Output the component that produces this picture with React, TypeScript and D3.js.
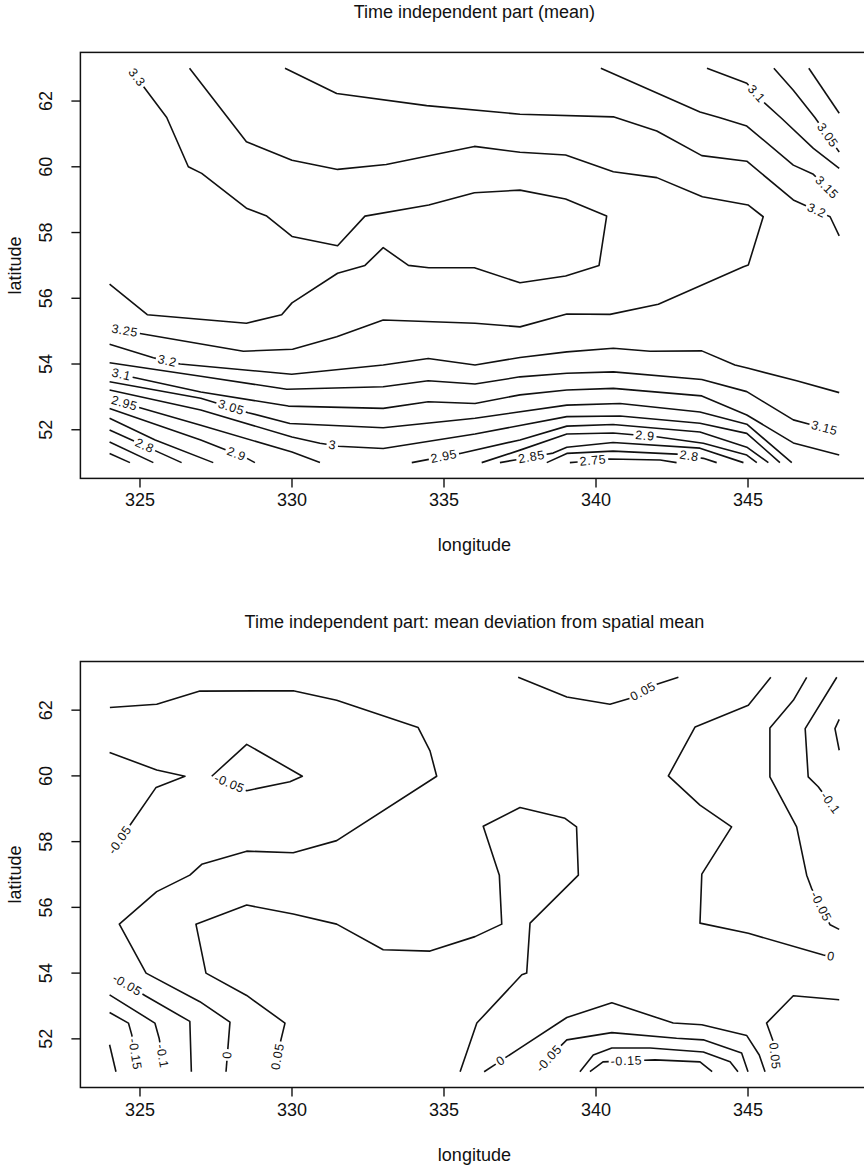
import React from 'react';
import * as d3 from 'd3';

type Pt = [number, number];
interface Contour {
  level: string;
  pts: Pt[];
  at?: Pt;
}

// Grid extent and axis ticks
const lonRange: Pt = [324, 348];
const latRange: Pt = [51, 63];
const lonTicks = [325, 330, 335, 340, 345];
const latTicks = [52, 54, 56, 58, 60, 62];

// Contour lines of the time independent part (mean), in [longitude, latitude]
const meanContours: Contour[] = [
  { level: '3.3', at: [324.87, 62.7], pts: [[324.66, 63], [325.88, 61.5], [326.59, 60], [327.03, 59.8], [328.5, 58.74], [329.17, 58.5], [330, 57.88], [331.5, 57.6], [332.4, 58.5], [334.5, 58.84], [336, 59.21], [337.5, 59.29], [339, 59.02], [340.35, 58.5], [340.1, 57], [339, 56.68], [337.5, 56.47], [336, 56.93], [334.5, 56.93], [333.83, 57], [333, 57.54], [332.4, 57], [331.5, 56.76], [330, 55.86], [329.66, 55.5], [328.5, 55.24], [325.24, 55.5], [324, 56.43]] },
  { level: '3.25', at: [324.5, 55.03], pts: [[326.63, 63], [328.5, 60.76], [330, 60.2], [331.5, 59.92], [333.1, 60.07], [336, 60.62], [337.5, 60.44], [339, 60.36], [340.57, 59.85], [342, 59.67], [343.5, 59.09], [345, 58.84], [345.5, 58.48], [345.01, 57.01], [344.85, 56.96], [342.05, 55.82], [340.46, 55.51], [339.04, 55.52], [337.5, 55.13], [336.02, 55.24], [333, 55.34], [331.47, 54.83], [330.02, 54.45], [328.4, 54.39], [325, 54.93], [324, 55.09]] },
  { level: '3.2', at: [347.26, 58.68], pts: [[329.77, 63], [331.47, 62.23], [334.43, 61.86], [337.5, 61.6], [340.57, 61.52], [342, 61.09], [343.48, 60.34], [344.96, 60.17], [346.49, 58.99], [347.7, 58.48], [348, 57.9]] },
  { level: '3.15', at: [347.57, 59.35], pts: [[340.16, 63], [343.42, 61.67], [344.08, 61.49], [344.96, 61.24], [346.49, 60.05], [347.15, 59.77], [348, 58.99]] },
  { level: '3.1', at: [345.23, 62.18], pts: [[343.65, 63], [344.96, 62.54], [345.56, 61.93], [346.11, 61.47], [347.15, 60.56], [348, 59.95]] },
  { level: '3.05', at: [347.63, 60.97], pts: [[345.85, 63], [346.49, 62.33], [347.2, 61.5], [348, 60.45]] },
  { level: '3', pts: [[347, 63], [348, 61.63]] },
  { level: '3.2', at: [325.89, 54.08], pts: [[324, 54.6], [325.44, 54.19], [326.32, 54], [329.99, 53.69], [333, 53.97], [334.48, 54.17], [336.02, 53.97], [337.5, 54.2], [339.04, 54.37], [340.57, 54.48], [341.78, 54.39], [343.48, 54.4], [344.57, 53.97], [345.01, 53.87], [346.6, 53.49], [348, 53.13]] },
  { level: '3.15', at: [347.53, 52.08], pts: [[324, 54.04], [327, 53.63], [329.83, 53.23], [333, 53.31], [334.48, 53.49], [336.02, 53.39], [337.5, 53.61], [339.04, 53.72], [340.57, 53.76], [343.48, 53.53], [344.96, 53.16], [346.49, 52.3], [348, 51.93]] },
  { level: '3.1', at: [324.37, 53.61], pts: [[324, 53.76], [324.84, 53.58], [327, 53.15], [329.88, 52.72], [333, 52.65], [334.48, 52.85], [336.02, 52.8], [337.5, 53.06], [339.04, 53.21], [340.57, 53.26], [343.48, 53.03], [344.96, 52.45], [346.49, 51.6], [348, 51.23]] },
  { level: '3.05', at: [327.98, 52.63], pts: [[324, 53.46], [327, 52.96], [328.56, 52.52], [329.93, 52.19], [333, 52.06], [336.02, 52.35], [339.04, 52.75], [340.79, 52.8], [343.42, 52.54], [344.96, 52.17], [346.44, 51]] },
  { level: '3', at: [331.32, 51.5], pts: [[324, 53.21], [327, 52.6], [330, 51.78], [330.92, 51.59], [331.52, 51.5], [333, 51.43], [336.02, 51.87], [339.04, 52.4], [340.79, 52.42], [343.42, 52.2], [344.96, 51.89], [346.05, 51]] },
  { level: '2.95', at: [324.46, 52.75], pts: [[324, 52.93], [327, 52.14], [330, 51.32], [330.92, 51]] },
  { level: '2.95', at: [335, 51.17], pts: [[333.94, 51], [335.53, 51.28], [337.5, 51.69], [339.04, 52.11], [340.56, 52.16], [343.42, 51.93], [344.96, 51.47], [345.67, 51]] },
  { level: '2.9', at: [328.13, 51.17], pts: [[324, 52.65], [327, 51.69], [328.5, 51.14], [328.78, 51]] },
  { level: '2.9', at: [341.61, 51.81], pts: [[336.24, 51], [337.5, 51.38], [339.04, 51.87], [340.56, 51.9], [342.05, 51.78], [343.53, 51.59], [344.96, 51.23], [345.29, 51]] },
  { level: '2.85', pts: [[324, 52.35], [325.5, 51.69], [327.41, 51]] },
  { level: '2.85', at: [337.89, 51.11], pts: [[336.84, 51], [338.59, 51.29], [339.04, 51.47], [340.56, 51.61], [343.42, 51.44], [344.85, 51]] },
  { level: '2.8', at: [325.13, 51.47], pts: [[324, 51.99], [326.37, 51]] },
  { level: '2.8', at: [343.06, 51.17], pts: [[338.38, 51], [339.04, 51.28], [340.56, 51.35], [342.65, 51.26], [343.53, 51.13], [343.97, 51]] },
  { level: '2.75', pts: [[324, 51.63], [325.44, 51]] },
  { level: '2.75', at: [339.9, 51.05], pts: [[339.14, 51], [340.46, 51.11], [342.11, 51.08], [342.65, 51]] },
  { level: '2.7', pts: [[324, 51.28], [324.67, 51]] },
];

// Contour lines of the deviation from the spatial mean, in [longitude, latitude]
const deviationContours: Contour[] = [
  { level: '0', at: [327.88, 51.51], pts: [[324.01, 62.08], [325.55, 62.18], [326.97, 62.58], [330.04, 62.59], [331.47, 62.3], [334.15, 61.47], [334.54, 60.76], [334.76, 59.99], [331.47, 58.03], [330.04, 57.66], [328.51, 57.71], [327.03, 57.31], [326.64, 56.98], [325.55, 56.48], [324.32, 55.49], [325.2, 54], [326.97, 53.13], [327.96, 52.51], [327.83, 51]] },
  { level: '-0.05', at: [324.34, 58.05], pts: [[324, 60.71], [325.55, 60.18], [326.48, 59.99], [325.53, 59.65], [324.67, 58.5], [324, 57.6]] },
  { level: '-0.05', at: [327.93, 59.75], pts: [[327.36, 59.99], [328.51, 60.96], [330.34, 59.99], [329.93, 59.82], [328.51, 59.55], [327.36, 59.99]] },
  { level: '0.05', at: [329.51, 51.45], pts: [[329.44, 51], [329.61, 51.87], [329.77, 52.48], [328.51, 53.32], [327.17, 54], [326.84, 55.49], [328.51, 56.07], [330.04, 55.8], [331.47, 55.49], [333, 54.71], [334.54, 54.67], [336.02, 55.11], [336.9, 55.49], [336.82, 56.98], [336.29, 58.47], [337.5, 59.04], [338.98, 58.71], [339.36, 58.45], [339.42, 56.98], [337.83, 55.52], [337.72, 54], [337.56, 53.95], [336.08, 52.48], [335.53, 51]] },
  { level: '0.05', at: [341.56, 62.55], pts: [[337.44, 63], [339.04, 62.4], [340.46, 62.18], [341.12, 62.36], [342, 62.79], [342.71, 63]] },
  { level: '0', at: [347.73, 54.5], pts: [[345.75, 63], [345.01, 62.15], [343.26, 61.49], [342.38, 60], [343.42, 59.11], [344.46, 58.45], [343.48, 57.01], [343.42, 55.52], [345.01, 55.21], [347.48, 54.55], [348, 54.46]] },
  { level: '-0.05', at: [347.3, 55.98], pts: [[346.93, 63], [346.49, 62.3], [345.72, 61.46], [345.72, 59.97], [346.6, 58.45], [346.93, 56.98], [347.09, 56.58], [347.7, 55.47], [348, 55.33]] },
  { level: '-0.1', at: [347.7, 59.17], pts: [[347.92, 63], [346.88, 61.44], [346.98, 59.97], [347.31, 59.67], [348, 58.81]] },
  { level: '-0.15', pts: [[348, 61.72], [347.86, 61.44], [348, 60.78]] },
  { level: '0.05', at: [345.89, 51.48], pts: [[348, 53.19], [346.49, 53.31], [345.61, 52.48], [345.83, 51.92], [345.92, 51]] },
  { level: '0', at: [336.84, 51.36], pts: [[336.32, 51], [337.5, 51.72], [339.04, 52.65], [340.52, 53.1], [342.54, 52.48], [343.48, 52.43], [344.96, 52.1], [345.37, 51.51], [345.56, 51]] },
  { level: '-0.05', at: [338.42, 51.42], pts: [[338.06, 51], [338.82, 51.77], [339.04, 51.97], [340.52, 52.19], [342.65, 52.02], [343.53, 51.97], [344.79, 51.57], [345, 51]] },
  { level: '-0.1', pts: [[339.47, 51], [339.91, 51.51], [340.52, 51.72], [341.78, 51.72], [343.53, 51.6], [344.41, 51.3], [344.67, 51]] },
  { level: '-0.15', at: [341.0, 51.36], pts: [[339.8, 51], [340.23, 51.3], [341.94, 51.36], [343.42, 51.3], [343.82, 51]] },
  { level: '-0.05', at: [324.56, 53.61], pts: [[324, 53.95], [325.16, 53.32], [326.64, 52.53], [326.69, 51]] },
  { level: '-0.1', at: [325.77, 51.48], pts: [[324, 53.34], [325.49, 52.48], [325.63, 52.02], [325.82, 51]] },
  { level: '-0.15', at: [324.89, 51.48], pts: [[324, 52.8], [324.62, 52.48], [324.73, 52.12], [324.93, 51]] },
  { level: '-0.2', pts: [[324, 51.82], [324.21, 51]] },
];

const W = 864;
const H = 1169;
const X0 = 80.4;
const X1 = 868.4;
const PLOT_H = 426;
const AXIS_FONT = "'Liberation Sans', Arial, Helvetica, sans-serif";
const AXIS_SIZE = 18;
const LABEL_FONT = "'Liberation Sans', Arial, sans-serif";
const LABEL_SIZE = 12.5;
const LABEL_SPACING = 0.6;
const INK = '#111';
const LINE_W = 1.6;

const panels = [
  { top: 52.4, title: 'Time independent part (mean)', contours: meanContours },
  { top: 661.5, title: 'Time independent part: mean deviation from spatial mean', contours: deviationContours },
];

// R-style axis extension of 4% on each side
const pad = ([a, b]: Pt): Pt => {
  const d = (b - a) * 0.04;
  return [a - d, b + d];
};

const labelWidth = (s: string) => {
  let w = 0;
  for (const ch of s) w += (ch === '.' ? 0.278 : ch === '-' ? 0.333 : 0.556) * LABEL_SIZE + LABEL_SPACING;
  return w;
};

// Split a pixel polyline around a label position, returning visible pieces
function cutForLabel(px: Pt[], anchor: Pt, gap: number) {
  const cum = [0];
  for (let i = 1; i < px.length; i++) {
    cum.push(cum[i - 1] + Math.hypot(px[i][0] - px[i - 1][0], px[i][1] - px[i - 1][1]));
  }
  const L = cum[cum.length - 1];
  let best = Infinity;
  let s0 = 0;
  for (let i = 0; i < px.length - 1; i++) {
    const [x1, y1] = px[i];
    const [x2, y2] = px[i + 1];
    const dx = x2 - x1;
    const dy = y2 - y1;
    const len2 = dx * dx + dy * dy || 1;
    let t = ((anchor[0] - x1) * dx + (anchor[1] - y1) * dy) / len2;
    t = Math.max(0, Math.min(1, t));
    const d = Math.hypot(anchor[0] - (x1 + t * dx), anchor[1] - (y1 + t * dy));
    if (d < best) {
      best = d;
      s0 = cum[i] + t * (cum[i + 1] - cum[i]);
    }
  }
  let a = s0 - gap / 2;
  let b = s0 + gap / 2;
  if (a < 0) { b -= a; a = 0; }
  if (b > L) { a -= b - L; b = L; }
  a = Math.max(0, a);
  const at = (s: number): Pt => {
    for (let i = 1; i < px.length; i++) {
      if (s <= cum[i] || i === px.length - 1) {
        const seg = cum[i] - cum[i - 1] || 1;
        const t = Math.max(0, Math.min(1, (s - cum[i - 1]) / seg));
        return [px[i - 1][0] + t * (px[i][0] - px[i - 1][0]), px[i - 1][1] + t * (px[i][1] - px[i - 1][1])];
      }
    }
    return px[px.length - 1];
  };
  const sub = (s1: number, s2: number): Pt[] => {
    const out: Pt[] = [at(s1)];
    for (let i = 0; i < px.length; i++) if (cum[i] > s1 && cum[i] < s2) out.push(px[i]);
    out.push(at(s2));
    return out;
  };
  const paths: Pt[][] = [];
  if (a > 4) paths.push(sub(0, a));
  if (L - b > 4) paths.push(sub(b, L));
  const p1 = at(a);
  const p2 = at(b);
  let angle = (Math.atan2(p2[1] - p1[1], p2[0] - p1[0]) * 180) / Math.PI;
  if (angle > 90) angle -= 180;
  if (angle < -90) angle += 180;
  return { paths, label: { pos: at((a + b) / 2), angle } };
}

function Panel({ top, title, contours }: { top: number; title: string; contours: Contour[] }) {
  const x = d3.scaleLinear().domain(pad(lonRange)).range([X0, X1]);
  const y = d3.scaleLinear().domain(pad(latRange)).range([top + PLOT_H, top]);
  const bottom = top + PLOT_H;
  const line = d3.line<Pt>();
  const cx = (X0 + X1) / 2;

  const drawn = contours.map((c) => {
    const px: Pt[] = c.pts.map(([lo, la]) => [x(lo), y(la)]);
    if (!c.at) return { paths: [px], label: null as null | { pos: Pt; angle: number }, text: c.level };
    const r = cutForLabel(px, [x(c.at[0]), y(c.at[1])], labelWidth(c.level) + 4);
    return { ...r, text: c.level };
  });

  return (
    <g>
      <text x={cx} y={top - 34} textAnchor="middle" fontSize={AXIS_SIZE} fill={INK} fontFamily={AXIS_FONT}>
        {title}
      </text>
      {drawn.map((d, i) => (
        <g key={i}>
          {d.paths.map((p, j) => (
            <path key={j} d={line(p) || ''} fill="none" stroke={INK} strokeWidth={LINE_W} strokeLinejoin="round" />
          ))}
          {d.label && (
            <text
              transform={`translate(${d.label.pos[0]},${d.label.pos[1]}) rotate(${d.label.angle})`}
              textAnchor="middle"
              dominantBaseline="central"
              fontSize={LABEL_SIZE}
              fontFamily={LABEL_FONT}
              letterSpacing={LABEL_SPACING}
              fill={INK}
            >
              {d.text}
            </text>
          )}
        </g>
      ))}
      <rect x={X0} y={top} width={X1 - X0} height={PLOT_H} fill="none" stroke={INK} strokeWidth={1.5} />
      {lonTicks.map((t) => (
        <g key={t}>
          <line x1={x(t)} x2={x(t)} y1={bottom} y2={bottom + 9} stroke={INK} strokeWidth={1.4} />
          <text x={x(t)} y={bottom + 22} textAnchor="middle" dominantBaseline="central" fontSize={AXIS_SIZE} fill={INK} fontFamily={AXIS_FONT}>
            {t}
          </text>
        </g>
      ))}
      {latTicks.map((t) => (
        <g key={t}>
          <line x1={X0} x2={X0 - 9} y1={y(t)} y2={y(t)} stroke={INK} strokeWidth={1.4} />
          <text
            transform={`translate(${X0 - 34},${y(t)}) rotate(-90)`}
            textAnchor="middle"
            dominantBaseline="central"
            fontSize={AXIS_SIZE}
            fill={INK}
            fontFamily={AXIS_FONT}
          >
            {t}
          </text>
        </g>
      ))}
      <text x={cx} y={bottom + 67} textAnchor="middle" dominantBaseline="central" fontSize={AXIS_SIZE} fill={INK} fontFamily={AXIS_FONT}>
        longitude
      </text>
      <text
        transform={`translate(${X0 - 65},${top + PLOT_H / 2}) rotate(-90)`}
        textAnchor="middle"
        dominantBaseline="central"
        fontSize={AXIS_SIZE}
        fill={INK}
        fontFamily={AXIS_FONT}
      >
        latitude
      </text>
    </g>
  );
}

export default function App() {
  return (
    <svg width={W} height={H} style={{ position: 'absolute', left: 0, top: 0, background: '#fff' }}>
      <rect width={W} height={H} fill="#fff" />
      {panels.map((p, i) => (
        <Panel key={i} top={p.top} title={p.title} contours={p.contours} />
      ))}
    </svg>
  );
}
